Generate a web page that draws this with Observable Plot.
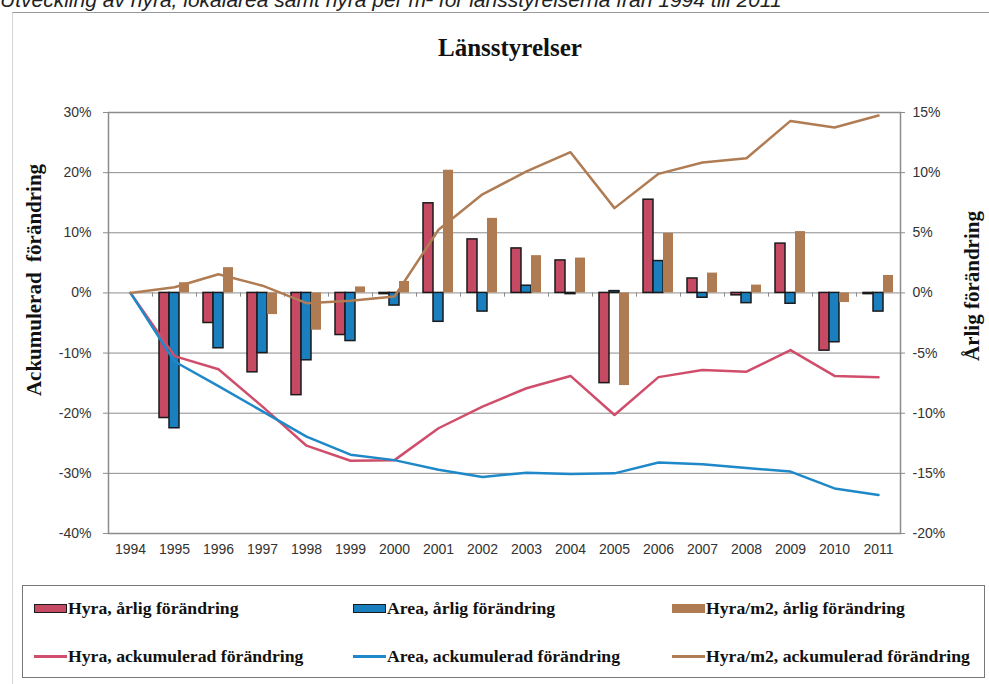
<!DOCTYPE html>
<html>
<head>
<meta charset="utf-8">
<script src="https://cdn.jsdelivr.net/npm/d3@7"></script>
<script src="https://cdn.jsdelivr.net/npm/@observablehq/plot@0.6"></script>
<style>
  html, body { margin: 0; padding: 0; background: #fff; }
  body { width: 989px; height: 684px; position: relative; overflow: hidden; }
  .abs { position: absolute; }
  #caption { left: 0; top: -12px; font: italic 21px "Liberation Sans", Arial, sans-serif; line-height: 24px; color: #222; white-space: nowrap; }
  #frame { left: 12px; top: 12px; width: 977px; height: 672px; border-top: 1px solid #9a9a9a; border-left: 1px solid #d6d6d6; box-sizing: border-box; }
  #chart { left: 0; top: 0; }
  #title { left: 0; width: 1020px; top: 34px; text-align: center; font: bold 25px "Liberation Serif", "Times New Roman", serif; color: #111; }
  .ylab { font: bold 21px "Liberation Serif", "Times New Roman", serif; color: #111; white-space: nowrap; transform: translate(-50%, -50%) rotate(-90deg); }
  #legend { left: 22px; top: 585px; width: 963px; height: 93px; border: 1px solid #777; box-sizing: border-box; }
  .item { position: absolute; font: bold 17.7px "Liberation Serif", "Times New Roman", serif; color: #111; white-space: nowrap; display: flex; align-items: center; }
  .sw { display: inline-block; width: 31px; height: 7px; margin-right: 1px; }
  .ln { display: inline-block; width: 33px; height: 3px; margin-right: 1px; }
</style>
</head>
<body>
<div id="caption" class="abs">Utveckling av hyra, lokalarea samt hyra per m² för länsstyrelserna från 1994 till 2011</div>
<div id="frame" class="abs"></div>
<div id="chart" class="abs"></div>
<div id="title" class="abs">Länsstyrelser</div>
<div class="abs ylab" style="left:34px; top:280px;">Ackumulerad&nbsp; förändring</div>
<div class="abs ylab" style="left:972px; top:286px;">Årlig förändring</div>
<div id="legend" class="abs"></div>
<script>
// ---- data (percent) ----
const years = ["1994","1995","1996","1997","1998","1999","2000","2001","2002","2003","2004","2005","2006","2007","2008","2009","2010","2011"];

// annual change (right axis, %)
const hyraArlig   = [null, -10.4, -2.5, -6.6, -8.5, -3.5, -0.1, 7.45, 4.45, 3.7, 2.7, -7.5, 7.75, 1.2, -0.2, 4.1, -4.8, -0.1];
const areaArlig   = [null, -11.25, -4.6, -5.0, -5.6, -4.0, -1.05, -2.4, -1.55, 0.6, -0.1, 0.15, 2.65, -0.4, -0.85, -0.9, -4.1, -1.55];
const hyraM2Arlig = [null, 0.85, 2.1, -1.8, -3.1, 0.5, 0.95, 10.2, 6.2, 3.1, 2.9, -7.7, 4.95, 1.65, 0.65, 5.1, -0.8, 1.45];

// accumulated change (left axis, %)
const hyraAck   = [0, -10.5, -12.7, -18.9, -25.4, -27.9, -27.8, -22.5, -18.9, -15.85, -13.8, -20.3, -14.0, -12.8, -13.1, -9.5, -13.8, -14.0];
const areaAck   = [0, -11.4, -15.5, -19.7, -23.9, -26.9, -27.8, -29.4, -30.6, -29.9, -30.1, -30.0, -28.2, -28.5, -29.1, -29.7, -32.5, -33.6];
const hyraM2Ack = [0, 0.95, 3.1, 1.2, -1.7, -1.3, -0.6, 10.5, 16.4, 20.2, 23.4, 14.1, 19.8, 21.7, 22.4, 28.6, 27.5, 29.5];

// tick labels
const leftTicks = [-40, -30, -20, -10, 0, 10, 20, 30];
const rightTicks = [-20, -15, -10, -5, 0, 5, 10, 15];

const colors = {
  hyraBar: "#C64A64", areaBar: "#1A7FBF", m2Bar: "#AF7B52",
  hyraLine: "#D04E6B", areaLine: "#1E88C8", m2Line: "#B07C53"
};

// ---- build table ----
const rows = years.map((y, i) => ({
  year: y,
  hyraArlig: hyraArlig[i], areaArlig: areaArlig[i], hyraM2Arlig: hyraM2Arlig[i],
  hyraAck: hyraAck[i], areaAck: areaAck[i], hyraM2Ack: hyraM2Ack[i]
}));
const barRows = rows.filter(d => d.hyraArlig !== null);

// right axis maps onto left scale: right = left / 2
const R = v => v / 50;   // right-axis percent -> left-scale fraction
const L = v => v / 100;  // left-axis percent -> fraction

const tickFont = { fontSize: 14, fontFamily: "'Liberation Sans', Arial, sans-serif" };

const chart = Plot.plot({
  width: 989,
  height: 575,
  marginTop: 112,
  marginBottom: 42,
  marginLeft: 108,
  marginRight: 89,
  style: { background: "transparent", color: "#333", fontFamily: "'Liberation Sans', Arial, sans-serif", fontSize: "14px" },
  x: { type: "band", domain: years, padding: 0 },
  y: { domain: [-0.4, 0.3] },
  marks: [
    Plot.ruleY(leftTicks.map(L), { stroke: "#8c8c8c", strokeWidth: 1 }),
    Plot.frame({ stroke: "#8c8c8c", strokeWidth: 1.5 }),
    Plot.ruleX(years.slice(1), { x: d => d, y1: 0, y2: -0.007, dx: -22, stroke: "#8c8c8c" }),
    Plot.axisY({ ticks: leftTicks.map(L), tickFormat: d => Math.round(d * 100) + "%", tickSize: 5, tickPadding: 12, label: null, stroke: "#8c8c8c", fill: "#333", ...tickFont }),
    Plot.axisY({ anchor: "right", ticks: rightTicks.map(R), tickFormat: d => Math.round(d * 50) + "%", tickSize: 4, tickPadding: 8, label: null, stroke: "#8c8c8c", fill: "#333", ...tickFont }),
    Plot.axisX({ tickSize: 0, tickPadding: 11, label: null, fill: "#333", ...tickFont }),
    Plot.barY(barRows, { x: "year", y: d => R(d.hyraArlig), fill: colors.hyraBar, stroke: "#1a1a1a", strokeWidth: 1.5, insetLeft: 7, insetRight: 27 }),
    Plot.barY(barRows, { x: "year", y: d => R(d.areaArlig), fill: colors.areaBar, stroke: "#1a1a1a", strokeWidth: 1.5, insetLeft: 17, insetRight: 17 }),
    Plot.barY(barRows, { x: "year", y: d => R(d.hyraM2Arlig), fill: colors.m2Bar, insetLeft: 27, insetRight: 7 }),
    Plot.lineY(rows, { x: "year", y: d => L(d.hyraAck), stroke: colors.hyraLine, strokeWidth: 2.5 }),
    Plot.lineY(rows, { x: "year", y: d => L(d.areaAck), stroke: colors.areaLine, strokeWidth: 2.5 }),
    Plot.lineY(rows, { x: "year", y: d => L(d.hyraM2Ack), stroke: colors.m2Line, strokeWidth: 2.5 })
  ]
});
document.getElementById("chart").appendChild(chart);

// ---- legend ----
const legendItems = [
  { label: "Hyra, årlig förändring", kind: "bar", fill: colors.hyraBar, border: true, x: 11, y: 22 },
  { label: "Area, årlig förändring", kind: "bar", fill: colors.areaBar, border: true, x: 330, y: 22 },
  { label: "Hyra/m2, årlig förändring", kind: "bar", fill: colors.m2Bar, border: false, x: 649, y: 22 },
  { label: "Hyra, ackumulerad förändring", kind: "line", fill: colors.hyraLine, x: 11, y: 70 },
  { label: "Area, ackumulerad förändring", kind: "line", fill: colors.areaLine, x: 330, y: 70 },
  { label: "Hyra/m2, ackumulerad förändring", kind: "line", fill: colors.m2Line, x: 649, y: 70 }
];
const legend = document.getElementById("legend");
legendItems.forEach(it => {
  const d = document.createElement("div");
  d.className = "item";
  d.style.left = it.x + "px";
  d.style.top = (it.y - 10) + "px";
  d.style.height = "20px";
  const s = document.createElement("span");
  if (it.kind === "bar") {
    s.className = "sw";
    s.style.background = it.fill;
    s.style.border = it.border ? "1.5px solid #1a1a1a" : "1.5px solid " + it.fill;
  } else {
    s.className = "ln";
    s.style.background = it.fill;
  }
  d.appendChild(s);
  const t = document.createElement("span");
  t.textContent = it.label;
  d.appendChild(t);
  legend.appendChild(d);
});
</script>
</body>
</html>
